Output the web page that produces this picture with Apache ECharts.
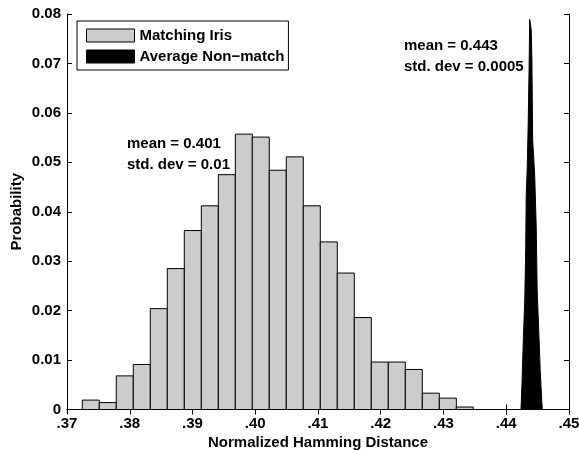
<!DOCTYPE html>
<html>
<head>
<meta charset="utf-8">
<script src="https://cdn.jsdelivr.net/npm/echarts@6/dist/echarts.min.js"></script>
<style>
  html, body { margin: 0; padding: 0; background: #fff; }
  #chart { width: 579px; height: 450px; }
</style>
</head>
<body>
<div id="chart"></div>
<script>
// histogram of matching iris distances (bin centres + probability)
const binCenters = [
  0.37379, 0.37650, 0.37921, 0.38192, 0.38463, 0.38734, 0.39005, 0.39276,
  0.39547, 0.39818, 0.40088, 0.40359, 0.40630, 0.40901, 0.41172, 0.41443,
  0.41714, 0.41985, 0.42256, 0.42527, 0.42798, 0.43069, 0.43339
];
const matchProb = [
  0.0019, 0.0014, 0.0068, 0.0091, 0.0204, 0.0285, 0.0362, 0.0412,
  0.0475, 0.0557, 0.0551, 0.0484, 0.0511, 0.0412, 0.0339, 0.0276,
  0.0186, 0.0096, 0.0096, 0.0081, 0.0033, 0.0023, 0.0005
];
const binWidth = 0.00271;

// outline of the average non-match distribution
const nonMatchX = [
  0.44235, 0.44250, 0.44272, 0.44295, 0.44310, 0.44318, 0.44334, 0.44350,
  0.44366, 0.44374, 0.44390, 0.44398, 0.44409, 0.44421, 0.44453, 0.44477,
  0.44493, 0.44517, 0.44541, 0.44565, 0.44575
];
const nonMatchProb = [
  0, 0.0050, 0.0141, 0.0221, 0.0323, 0.0434, 0.0488, 0.0580,
  0.0707, 0.0789, 0.0789, 0.0768, 0.0707, 0.0545, 0.0474, 0.0373,
  0.0242, 0.0161, 0.0080, 0.0019, 0
];

const seriesNames = ['Matching Iris', 'Average Non\u2212match'];
const xTicks = { min: 0.37, max: 0.45, interval: 0.01 };
const yTicks = { min: 0, max: 0.08, interval: 0.01 };

const FONT = 'Liberation Sans, Arial, sans-serif';
const labelStyle = { fontFamily: FONT, fontWeight: 'bold', fontSize: 15, color: '#000' };

function xLabel(v) {
  return v.toFixed(2).replace(/^0/, '');
}
function yLabel(v) {
  return v === 0 ? '0' : v.toFixed(2);
}

const axisCommon = {
  axisLine: { show: true, lineStyle: { color: '#000', width: 1 } },
  axisTick: { show: true, inside: true, length: 5, lineStyle: { color: '#000' } },
  splitLine: { show: false }
};

const option = {
  animation: false,
  backgroundColor: '#fff',
  grid: { left: 67, right: 10, top: 14, bottom: 40.5, outerBoundsMode: 'none', containLabel: false },
  legend: {
    data: seriesNames,
    orient: 'vertical',
    left: 77,
    top: 21,
    icon: 'rect',
    itemWidth: 48,
    itemHeight: 13,
    itemGap: 6,
    padding: [7, 4, 6, 9],
    borderColor: '#000',
    borderWidth: 1,
    backgroundColor: '#fff',
    borderRadius: 0,
    itemStyle: { borderColor: '#000', borderWidth: 1 },
    textStyle: labelStyle
  },
  xAxis: [
    Object.assign({
      type: 'value', ...xTicks,
      name: 'Normalized Hamming Distance',
      nameLocation: 'middle',
      nameGap: 26,
      nameMoveOverlap: false,
      nameTextStyle: labelStyle,
      axisLabel: Object.assign({ formatter: xLabel, margin: 7 }, labelStyle)
    }, axisCommon),
    Object.assign({
      type: 'value', ...xTicks, position: 'top',
      axisLabel: { show: false }
    }, axisCommon)
  ],
  yAxis: [
    Object.assign({
      type: 'value', ...yTicks,
      name: 'Probability',
      nameLocation: 'middle',
      nameGap: 43,
      nameMoveOverlap: false,
      nameTextStyle: labelStyle,
      axisLabel: Object.assign({ formatter: yLabel, margin: 6 }, labelStyle)
    }, axisCommon),
    Object.assign({
      type: 'value', ...yTicks, position: 'right',
      axisLabel: { show: false }
    }, axisCommon)
  ],
  series: [
    {
      name: seriesNames[0],
      type: 'custom',
      xAxisIndex: 0,
      yAxisIndex: 0,
      itemStyle: { color: '#cccccc', borderColor: '#000', borderWidth: 1 },
      data: binCenters.map((x, i) => [x, matchProb[i]]),
      renderItem: function (params, api) {
        const x = api.value(0);
        const y = api.value(1);
        const p0 = api.coord([x - binWidth / 2, y]);
        const p1 = api.coord([x + binWidth / 2, 0]);
        return {
          type: 'rect',
          shape: { x: p0[0], y: p0[1], width: p1[0] - p0[0], height: p1[1] - p0[1] },
          style: { fill: '#cccccc', stroke: '#000', lineWidth: 1 }
        };
      }
    },
    {
      name: seriesNames[1],
      type: 'line',
      xAxisIndex: 0,
      yAxisIndex: 0,
      symbol: 'none',
      itemStyle: { color: '#000' },
      lineStyle: { color: '#000', width: 1 },
      areaStyle: { color: '#000', opacity: 1 },
      data: nonMatchX.map((x, i) => [x, nonMatchProb[i]])
    }
  ],
  graphic: [
    {
      type: 'text', left: 127, top: 133,
      style: {
        text: 'mean = 0.401\nstd. dev = 0.01',
        font: 'bold 15px ' + FONT, fill: '#000', lineHeight: 21
      }
    },
    {
      type: 'text', left: 404, top: 35,
      style: {
        text: 'mean = 0.443\nstd. dev = 0.0005',
        font: 'bold 15px ' + FONT, fill: '#000', lineHeight: 21
      }
    }
  ]
};

const myChart = echarts.init(document.getElementById('chart'));
myChart.setOption(option);
</script>
</body>
</html>
